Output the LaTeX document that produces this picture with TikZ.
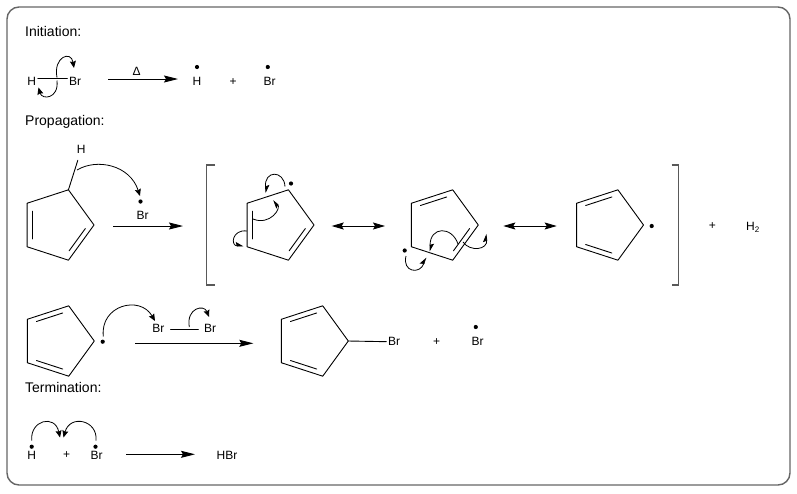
\documentclass[tikz,border=0pt]{standalone}
\usepackage{fontspec}
\setmainfont{Liberation Sans}
\usetikzlibrary{arrows.meta,calc}
\newcommand\mkring[3]{%
  \coordinate (#1c) at (#2,#3);
  \coordinate (#10) at ($(#1c)+(0:37)$);
  \coordinate (#11) at ($(#1c)+(-72:37)$);
  \coordinate (#12) at ($(#1c)+(-144:37)$);
  \coordinate (#13) at ($(#1c)+(144:37)$);
  \coordinate (#14) at ($(#1c)+(72:37)$);
  \draw[bond] (#10)--(#11)--(#12)--(#13)--(#14)--cycle;}
\newcommand\dbond[3]{%
  \coordinate (#1#2#3a) at ($(#1c)!0.835!(#1#2)$);
  \coordinate (#1#2#3b) at ($(#1c)!0.835!(#1#3)$);
  \draw[bond] ($(#1#2#3a)!0.12!(#1#2#3b)$) -- ($(#1#2#3b)!0.12!(#1#2#3a)$);}
\tikzset{
  bond/.style={line width=0.9pt, line join=round, line cap=round},
  lbl/.style={inner sep=0pt, font=\fontsize{12}{14}\selectfont},
  captxt/.style={inner sep=0pt, anchor=base west, font=\fontsize{14}{17}\selectfont},
  rdot/.style={circle, fill, inner sep=0pt, minimum size=4.2pt},
  rxn/.style={line width=0.9pt, -{Stealth[length=14pt,width=7pt,inset=2pt]}},
  dbl/.style={line width=0.9pt, {Stealth[length=12pt,width=7pt,inset=2pt]}-{Stealth[length=12pt,width=7pt,inset=2pt]}},
  carr/.style={line width=0.8pt, -{Stealth[length=7pt,width=6pt,inset=1pt]}},
  fish/.style={line width=0.8pt, -{Stealth[harpoon,length=7pt,width=8pt,inset=1pt]}},
  brk/.style={line width=1.2pt, draw=black!65},
  frame/.style={line width=1.4pt, draw=black!60, rounded corners=12pt}
}
\begin{document}
\begin{tikzpicture}[x=1pt,y=-1pt]
\useasboundingbox (0,0) rectangle (797,493);
\draw[frame] (7,7) rectangle (790,485);

% captions
\node[captxt] (tInit) at (25,36.7) {Initiation:};
\node[captxt] (tProp) at (25,125) {Propagation:};
\node[captxt] (tTerm) at (25,392) {Termination:};

% ---------- Initiation
\node[lbl] (iH) at (31.7,81.8) {H};
\node[lbl] (iBr) at (75,81.8) {Br};
\draw[bond] ([xshift=1.5pt,yshift=3pt]iH.east) -- ([xshift=-1.5pt,yshift=3pt]iBr.west);
\coordinate (iu1) at (57,77.5); \coordinate (iu2) at (74,68);
\draw[carr] (iu1) .. controls (53,57) and (71,50) .. (iu2);
\coordinate (il1) at (57,80.5); \coordinate (il2) at (38.5,87.5);
\draw[carr] (il1) .. controls (59,99) and (42,100) .. (il2);
\coordinate (ia1) at (108,79); \coordinate (ia2) at (178,79);
\draw[rxn] (ia1) -- (ia2);
\node[lbl] (iDelta) at (136.7,71) {Δ};
\node[lbl] (iHr) at (197,81.8) {H};
\node[rdot] (iHd) at (197,67) {};
\node[lbl] (iplus) at (233,82) {+};
\node[lbl] (iBrr) at (269.5,81.8) {Br};
\node[rdot] (iBrd) at (267.8,67) {};

% ---------- Propagation step 1
\mkring{ra}{57}{225}
\dbond{ra}{2}{3}
\dbond{ra}{4}{0}
\node[lbl] (pH) at (81.3,149.3) {H};
\draw[bond, shorten >=11.5pt] (ra1) -- (pH.center);
\node[rdot] (pBrd) at (140.5,201.5) {};
\node[lbl] (pBr) at (142.5,215.5) {Br};
\coordinate (pa1) at (77,170); \coordinate (pa2) at (140,196);
\draw[carr] (pa1) .. controls (97,158) and (130,165) .. (pa2);
\coordinate (pr1) at (113,226); \coordinate (pr2) at (183,226);
\draw[rxn] (pr1) -- (pr2);

% brackets
\coordinate (bl1) at (215,165); \coordinate (bl2) at (206.7,165);
\coordinate (bl3) at (206.7,285); \coordinate (bl4) at (215,285);
\draw[brk] (bl1) -- (bl2) -- (bl3) -- (bl4);
\coordinate (br1) at (671.7,165); \coordinate (br2) at (678.3,165);
\coordinate (br3) at (678.3,285); \coordinate (br4) at (671.7,285);
\draw[brk] (br1) -- (br2) -- (br3) -- (br4);

% ring 2
\mkring{rb}{277}{225}
\dbond{rb}{2}{3}
\dbond{rb}{4}{0}
\node[rdot] (rbd) at (291,183.5) {};
\coordinate (rbA1) at (285,186.5); \coordinate (rbA2) at (266,193);
\draw[fish] (rbA1) .. controls (284,170) and (264,170) .. (rbA2);
\coordinate (rbB1) at (253,219); \coordinate (rbB2) at (273,200.5);
\draw[fish] (rbB1) .. controls (270,226) and (282,208) .. (rbB2);
\coordinate (rbC1) at (247,231); \coordinate (rbC2) at (243.5,246);
\draw[fish] (rbC1) .. controls (232,229) and (230,246) .. (rbC2);

\coordinate (da1) at (331.7,226); \coordinate (da2) at (385,226);
\draw[dbl] (da1) -- (da2);

% ring 3
\mkring{rc}{441.3}{225}
\dbond{rc}{1}{2}
\dbond{rc}{4}{0}
\node[rdot] (rcd) at (404.7,250.5) {};
\coordinate (rcD1) at (406,256); \coordinate (rcD2) at (426,257.5);
\draw[fish] (rcD1) .. controls (402,272) and (420,275) .. (rcD2);
\coordinate (rcE1) at (458,244); \coordinate (rcE2) at (430,251.5);
\draw[fish] (rcE1) .. controls (452,226) and (430,226) .. (rcE2);
\coordinate (rcF1) at (463,242); \coordinate (rcF2) at (486,234);
\draw[fish] (rcF1) .. controls (470,252) and (488,250) .. (rcF2);

\coordinate (db1) at (503.3,226); \coordinate (db2) at (556.7,226);
\draw[dbl] (db1) -- (db2);

% ring 4
\mkring{rd}{606.5}{225}
\dbond{rd}{1}{2}
\dbond{rd}{3}{4}
\node[rdot] (rdd) at (651.7,226) {};

\node[lbl] (pplus) at (712.3,226) {+};
\node[lbl, anchor=base west] (pH2) at (746,230.5) {H\textsubscript{2}};

% ---------- Propagation step 2
\mkring{re}{57.3}{341}
\dbond{re}{1}{2}
\dbond{re}{3}{4}
\node[rdot] (red) at (102.7,341.7) {};
\node[lbl] (qBr1) at (158.3,328) {Br};
\node[lbl] (qBr2) at (210,328) {Br};
\draw[bond, shorten <=6pt, shorten >=5.5pt] ([yshift=-1pt]qBr1.east) -- ([yshift=-1pt]qBr2.west);
\coordinate (qa1) at (103.3,336.5); \coordinate (qa2) at (155,321);
\draw[carr] (qa1) .. controls (100,305) and (140,295) .. (qa2);
\coordinate (qb1) at (189.3,327); \coordinate (qb2) at (209,317);
\draw[carr] (qb1) .. controls (186,308) and (204,304) .. (qb2);
\coordinate (qr1) at (135,343.3); \coordinate (qr2) at (253.3,343.3);
\draw[rxn] (qr1) -- (qr2);

\mkring{rf}{311.3}{341}
\dbond{rf}{1}{2}
\dbond{rf}{3}{4}
\node[lbl] (qBr3) at (394,341.7) {Br};
\draw[bond, shorten >=1.5pt] (rf0) -- (qBr3.west);
\node[lbl] (qplus) at (436.7,341.7) {+};
\node[lbl] (qBr4) at (477.5,341.7) {Br};
\node[rdot] (qBr4d) at (475.8,327) {};

% ---------- Termination
\node[lbl] (tH) at (31.7,455.8) {H};
\node[rdot] (tHd) at (31.7,446.7) {};
\node[lbl] (tplus) at (66.7,455) {+};
\node[lbl] (tBr) at (96.7,455.8) {Br};
\node[rdot] (tBrd) at (95.5,446.7) {};
\coordinate (ta1) at (31.7,440.5); \coordinate (ta2) at (60,437.5);
\draw[carr] (ta1) .. controls (30,420) and (55,414) .. (ta2);
\coordinate (tb1) at (96,440.5); \coordinate (tb2) at (63.5,437.5);
\draw[carr] (tb1) .. controls (98,420) and (70,414) .. (tb2);
\coordinate (tr1) at (126,454.3); \coordinate (tr2) at (195,454.3);
\draw[rxn] (tr1) -- (tr2);
\node[lbl] (tHBr) at (227,455) {HBr};
\end{tikzpicture}
\end{document}
